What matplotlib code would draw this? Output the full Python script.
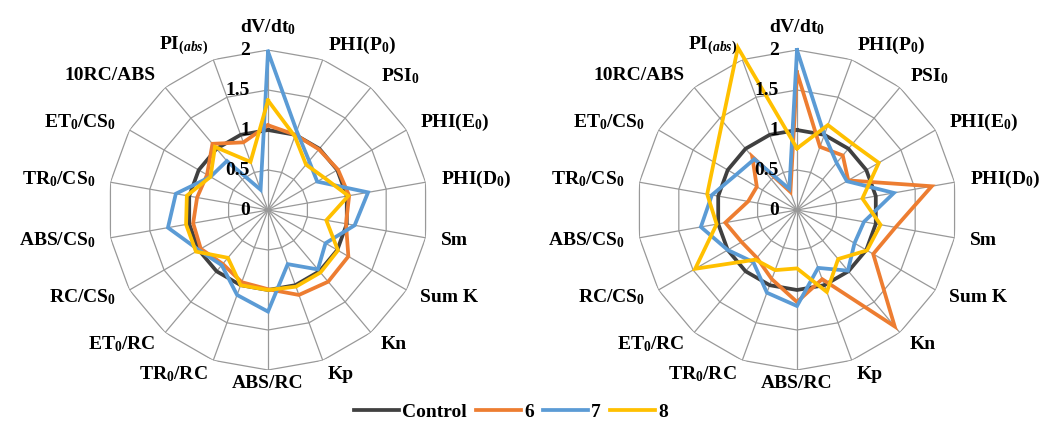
import numpy as np
import matplotlib
matplotlib.use("Agg")
import matplotlib.pyplot as plt

plt.rcParams["font.family"] = "Liberation Serif"
plt.rcParams["font.weight"] = "bold"
plt.rcParams["mathtext.fontset"] = "custom"
plt.rcParams["mathtext.rm"] = "Liberation Serif:bold"
plt.rcParams["mathtext.it"] = "Liberation Serif:italic"
plt.rcParams["mathtext.bf"] = "Liberation Serif:bold"

# categories clockwise from the top
categories = [
    r"dV/dt$_\mathrm{0}$", r"PHI(P$_\mathrm{0}$)", r"PSI$_\mathrm{0}$", r"PHI(E$_\mathrm{0}$)",
    r"PHI(D$_\mathrm{0}$)", "Sm", "Sum K", "Kn", "Kp", "ABS/RC",
    r"TR$_\mathrm{0}$/RC", r"ET$_\mathrm{0}$/RC", r"RC/CS$_\mathrm{0}$", r"ABS/CS$_\mathrm{0}$",
    r"TR$_\mathrm{0}$/CS$_\mathrm{0}$", r"ET$_\mathrm{0}$/CS$_\mathrm{0}$", "10RC/ABS",
    r"PI$_{\mathit{(abs)}}$",
]
ring_values = [0, 0.5, 1, 1.5, 2]
ring_labels = ["0", "0.5", "1", "1.5", "2"]

series_names = ["Control", "6", "7", "8"]
series_colors = ["#404040", "#ED7D31", "#5B9BD5", "#FFC000"]

control = [1.0] * 18

# left panel
left_6 = [1.06, 1.00, 0.99, 1.01, 1.03, 0.99, 1.16, 1.17, 1.13, 0.99,
          0.96, 0.88, 0.97, 0.95, 0.90, 0.88, 1.08, 0.90]
left_7 = [1.98, 1.05, 0.80, 0.71, 1.27, 1.10, 0.83, 0.97, 0.72, 1.27,
          1.13, 0.90, 1.00, 1.27, 1.17, 0.83, 0.80, 0.27]
left_8 = [1.37, 0.98, 0.74, 0.81, 1.02, 0.74, 1.01, 1.02, 1.02, 1.00,
          1.00, 0.78, 1.04, 1.04, 1.03, 0.83, 1.03, 0.64]

# right panel
right_6 = [1.72, 0.84, 0.89, 0.74, 1.71, 1.25, 1.10, 1.90, 0.92, 1.15,
           0.92, 0.78, 0.80, 0.91, 0.62, 0.58, 0.87, 0.24]
right_7 = [2.00, 1.00, 0.77, 0.72, 1.23, 0.85, 0.83, 0.99, 0.77, 1.20,
           1.10, 0.85, 1.00, 1.22, 1.08, 0.88, 0.83, 0.28]
right_8 = [0.77, 1.13, 1.08, 1.18, 0.83, 1.06, 1.01, 0.80, 1.09, 0.73,
           0.80, 0.81, 1.47, 1.02, 1.14, 1.20, 1.45, 2.16]

GRID = "#999999"
FS = 14


def draw_radar(ax, series):
    n = len(categories)
    theta = np.arange(n) * 2 * np.pi / n
    closed = np.append(theta, theta[0])

    ax.set_theta_zero_location("N")
    ax.set_theta_direction(-1)
    ax.set_ylim(0, 2)
    ax.grid(False)
    ax.set_xticks([])
    ax.set_yticks([])
    ax.spines["polar"].set_visible(False)
    ax.patch.set_alpha(0)

    # spider web
    for lvl in ring_values[1:]:
        ax.plot(closed, [lvl] * (n + 1), color=GRID, lw=0.9, zorder=1)
    for t in theta:
        ax.plot([t, t], [0, 2], color=GRID, lw=0.9, zorder=1)

    lines = []
    for vals, name, col in zip(series, series_names, series_colors):
        vals = np.append(vals, vals[0])
        ln, = ax.plot(closed, vals, color=col, lw=2.7, label=name,
                      clip_on=False, zorder=3, solid_joinstyle="miter")
        lines.append(ln)

    for v, lab in zip(ring_values, ring_labels):
        ax.annotate(lab, xy=(0, v), xytext=(-13, 0), textcoords="offset points",
                    ha="right", va="center", fontsize=FS, zorder=4)

    for t, lab in zip(theta, categories):
        s = np.sin(t)
        c = np.cos(t)
        if abs(s) < 0.01:
            ha = "center"
            r = 2.29 if c > 0 else 2.17
        else:
            ha = "left" if s > 0 else "right"
            r = 2.19
        ax.text(t, r, lab, ha=ha, va="center", fontsize=FS)
    return lines


fig = plt.figure(figsize=(10.41, 4.23), dpi=100)
W, H = 1041, 423
R = 160
ax1 = fig.add_axes([(268 - R) / W, (H - 210 - R) / H, 2 * R / W, 2 * R / H], projection="polar")
ax2 = fig.add_axes([(797 - R) / W, (H - 210 - R) / H, 2 * R / W, 2 * R / H], projection="polar")

handles = draw_radar(ax1, [control, left_6, left_7, left_8])
draw_radar(ax2, [control, right_6, right_7, right_8])

fig.legend(handles, series_names, loc="center", bbox_to_anchor=(511 / W, 1 - 412 / H),
           ncol=4, frameon=False, handlelength=2.3, handletextpad=0.15,
           columnspacing=0.5, prop=dict(family="Liberation Serif", weight="bold", size=FS))

fig.savefig("out.png", dpi=100)
